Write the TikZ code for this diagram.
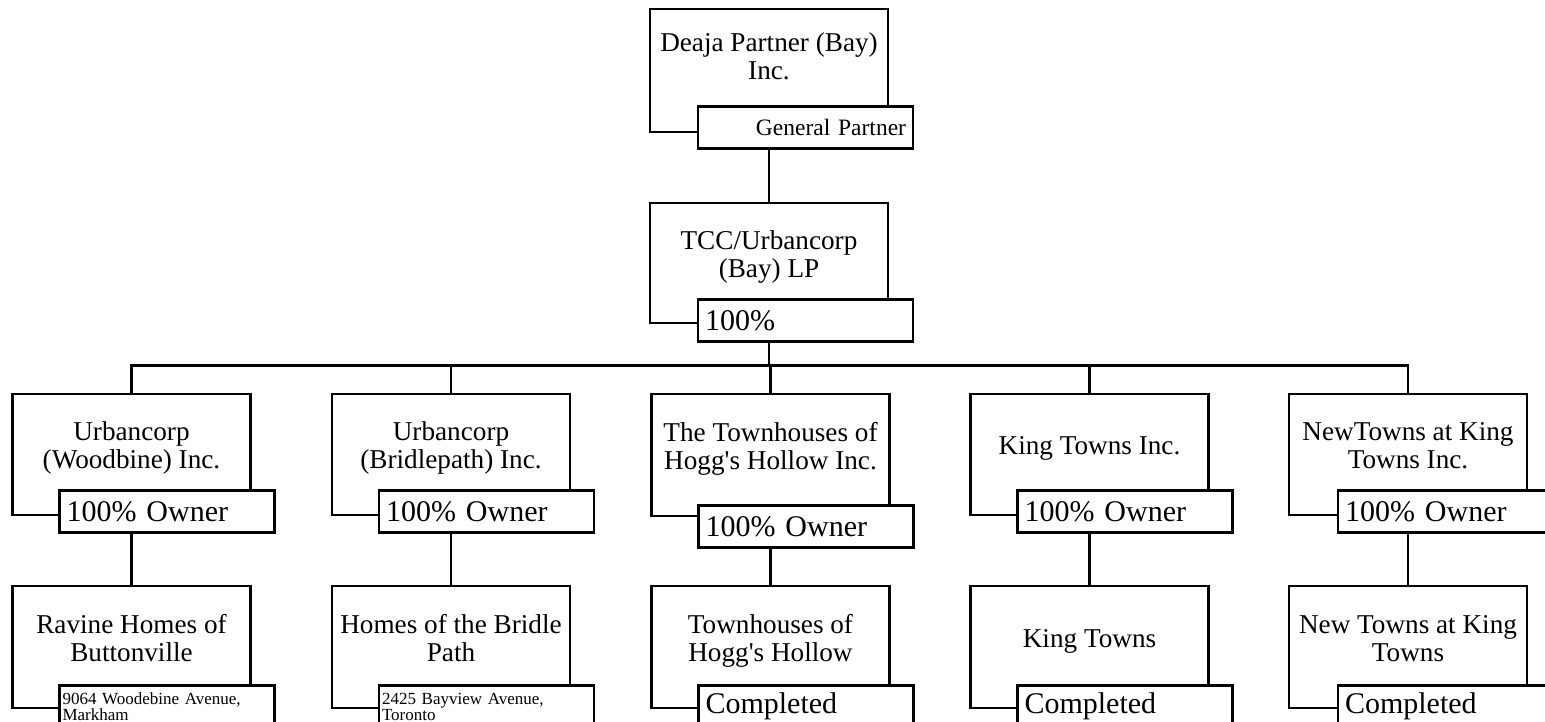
\documentclass[tikz,border=0pt]{standalone}
\usepackage{fontspec}
\setmainfont{Liberation Serif}
\usetikzlibrary{positioning}

\begin{document}
\begin{tikzpicture}[x=1pt, y=-1pt,
    entity/.style={draw, line width=2.6pt, minimum width=238pt, minimum height=121pt,
        align=center, text depth=18pt, font=\fontsize{27.2}{28}\selectfont},
    share/.style={draw, fill=white, line width=2.6pt, minimum width=215pt, minimum height=42pt,
        text width=201pt, inner xsep=7pt, align=left, anchor=north west,
        font=\fontsize{30}{32}\selectfont},
    address/.style={share, inner xsep=3pt, text width=209pt, font=\fontsize{17}{13.5}\selectfont},
    link/.style={line width=2.6pt}]
    \useasboundingbox (0,0) rectangle (1545,722);
    % general partner
    \node[entity, minimum height=123pt, text depth=29pt] (deaja) at (769,70.5) {Deaja Partner (Bay)\\Inc.};
    \node[share, align=right, font=\fontsize{23.5}{25}\selectfont] (gp) at ([shift={(48,-28)}]deaja.south west) {General Partner};
    % limited partnership
    \node[entity, minimum height=120pt] (tcc) at (769,263) {TCC/Urbancorp\\(Bay) LP};
    \node[share] (tccpct) at ([shift={(48,-26)}]tcc.south west) {100\%};
    % owners
    \node[entity] (woodbine) at (131.5,454.5) {Urbancorp\\(Woodbine) Inc.};
    \node[share] (woodbineown) at ([shift={(47,-27)}]woodbine.south west) {100\% Owner};
    \node[entity] (bridle) at (451,454.5) {Urbancorp\\(Bridlepath) Inc.};
    \node[share] (bridleown) at ([shift={(47,-27)}]bridle.south west) {100\% Owner};
    \node[entity, minimum height=122pt] (hogg) at (770.5,455) {The Townhouses of\\Hogg\textquotesingle s Hollow Inc.};
    \node[share] (hoggown) at ([shift={(47,-13)}]hogg.south west) {100\% Owner};
    \node[entity] (king) at (1089.5,454.5) {King Towns Inc.};
    \node[share] (kingown) at ([shift={(47,-27)}]king.south west) {100\% Owner};
    \node[entity] (newtowns) at (1408,454.5) {NewTowns at King\\Towns Inc.};
    \node[share] (newtownsown) at ([shift={(49,-27)}]newtowns.south west) {100\% Owner};
    % projects
    \node[entity, minimum height=122pt] (ravine) at (131.5,647) {Ravine Homes of\\Buttonville};
    \node[address] (ravineaddr) at ([shift={(47,-25)}]ravine.south west) {9064 Woodebine Avenue,\\Markham};
    \node[entity, minimum height=122pt] (bridlepath) at (451,647) {Homes of the Bridle\\Path};
    \node[address] (bridlepathaddr) at ([shift={(47,-25)}]bridlepath.south west) {2425 Bayview Avenue,\\Toronto};
    \node[entity, minimum height=122pt] (townhouses) at (770.5,647) {Townhouses of\\Hogg\textquotesingle s Hollow};
    \node[share] (townhousesdone) at ([shift={(47,-25)}]townhouses.south west) {Completed};
    \node[entity, minimum height=122pt] (kingtowns) at (1089.5,647) {King Towns};
    \node[share] (kingtownsdone) at ([shift={(47,-25)}]kingtowns.south west) {Completed};
    \node[entity, minimum height=122pt] (newkt) at (1408,647) {New Towns at King\\Towns};
    \node[share] (newktdone) at ([shift={(49,-25)}]newkt.south west) {Completed};
    % connectors
    \coordinate (bus) at (769,365.5);
    \draw[link] (deaja.center |- gp.south) -- (tcc.north);
    \draw[link] (tcc.center |- tccpct.south) -- (bus);
    \draw[link] (bus) -| (woodbine.north);
    \draw[link] (bus) -| (bridle.north);
    \draw[link] (bus) -| (hogg.north);
    \draw[link] (bus) -| (king.north);
    \draw[link] (bus) -| (newtowns.north);
    \draw[link] (woodbine.center |- woodbineown.south) -- (ravine.north);
    \draw[link] (bridle.center |- bridleown.south) -- (bridlepath.north);
    \draw[link] (hogg.center |- hoggown.south) -- (townhouses.north);
    \draw[link] (king.center |- kingown.south) -- (kingtowns.north);
    \draw[link] (newtowns.center |- newtownsown.south) -- (newkt.north);
\end{tikzpicture}
\end{document}
